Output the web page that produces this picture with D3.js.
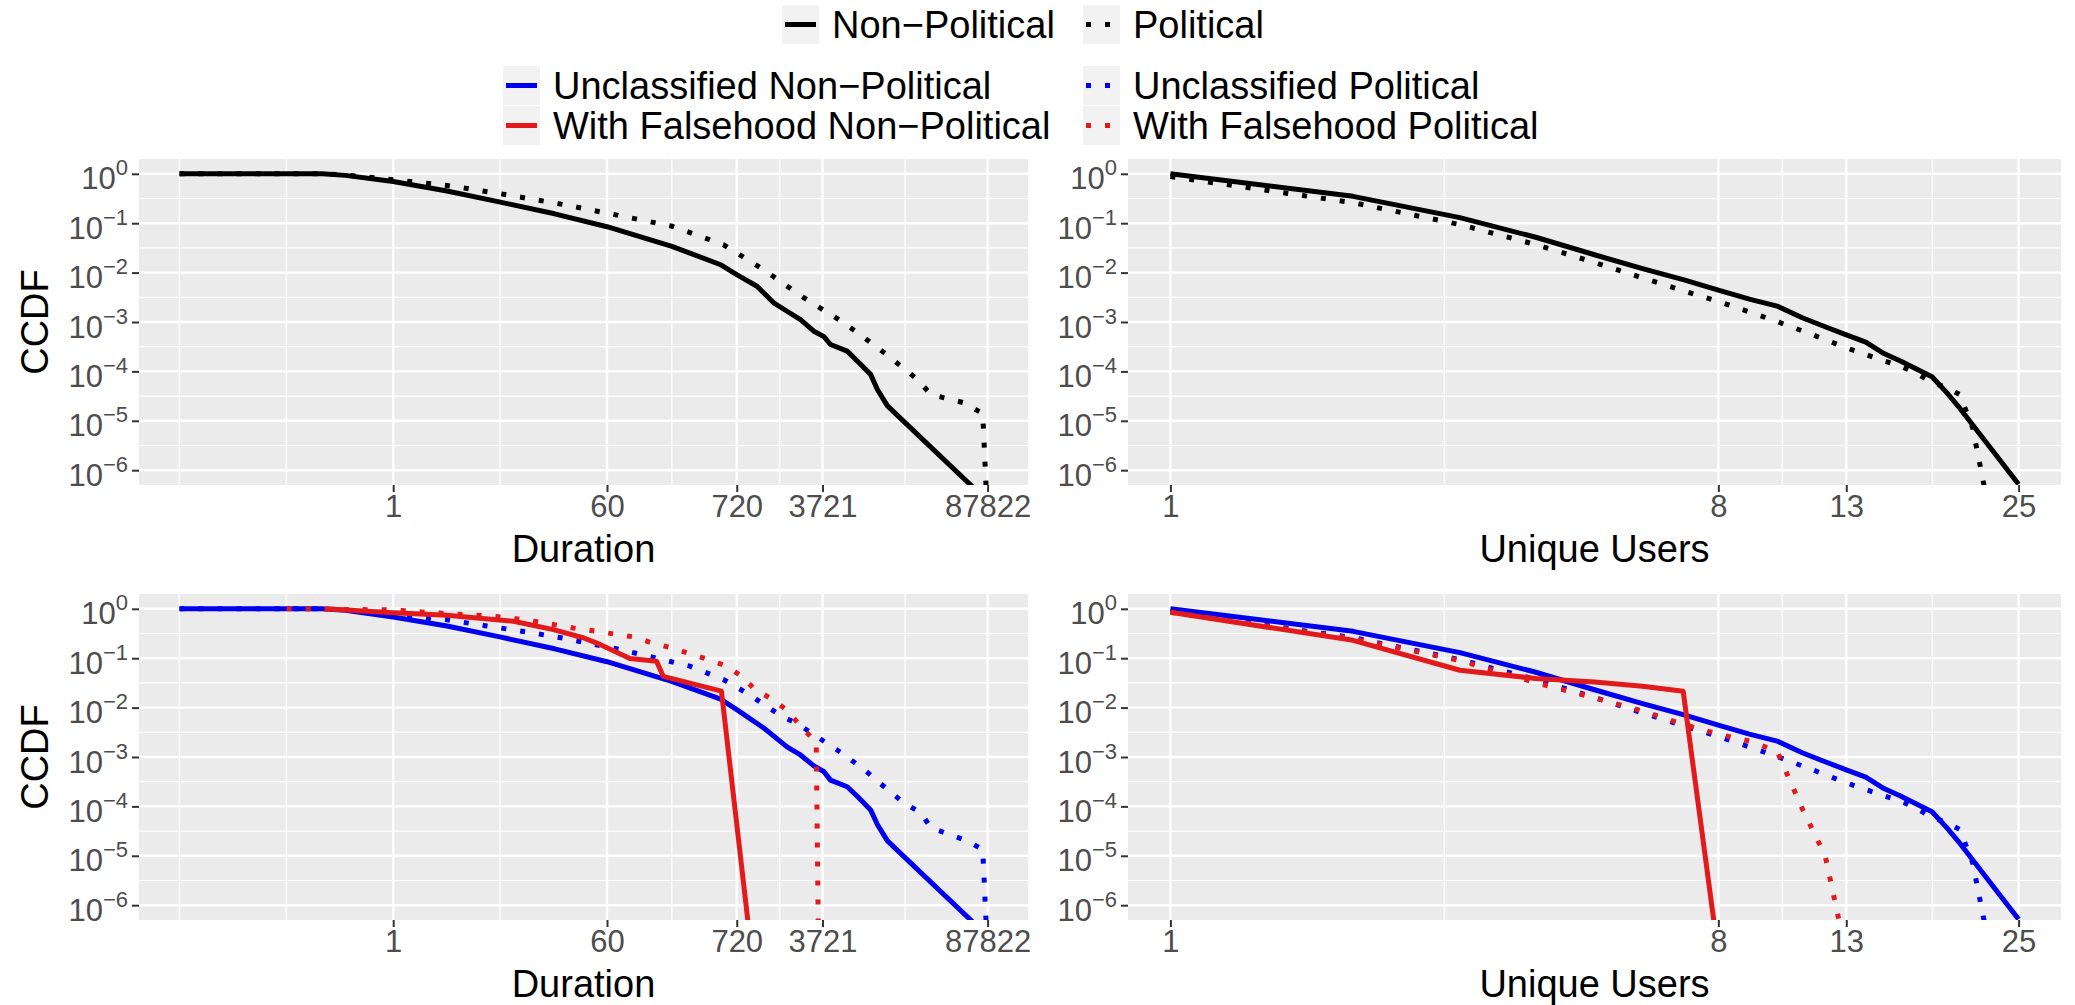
<!DOCTYPE html>
<html>
<head>
<meta charset="utf-8">
<script src="https://cdn.jsdelivr.net/npm/d3@7/dist/d3.min.js"></script>
<style>
body { margin: 0; background: #fff; }
svg text { font-family: "Liberation Sans", Arial, Helvetica, sans-serif; }
</style>
</head>
<body>
<div id="chart"></div>
<script>
// ---------- data ----------
const durTicks = [1, 60, 720, 3721, 87822];
const userTicks = [1, 8, 13, 25];
const yExps = [0, -1, -2, -3, -4, -5, -6];

// Duration, all tweets
const durNonPolX = [0.0167, 0.255, 0.4, 1, 2.8, 7.6, 22, 60, 208, 523, 720, 1060, 1460, 1885, 2440, 3150, 3810, 4335, 5970, 7240, 9350, 10640, 12900, 70000];
const durNonPolY = [1, 1, 0.93, 0.7, 0.45, 0.27, 0.155, 0.085, 0.034, 0.0146, 0.0091, 0.0053, 0.00245, 0.00165, 0.00112, 6.5e-4, 5.1e-4, 3.5e-4, 2.57e-4, 1.62e-4, 8.7e-5, 4.3e-5, 2.0e-5, 4e-7];
const durPolX = [0.0167, 0.255, 0.4, 1, 2.8, 7.6, 27, 60, 208, 556, 1200, 2600, 5620, 12100, 22900, 29600, 56500, 80000, 87822];
const durPolY = [1, 1, 0.95, 0.76, 0.58, 0.4, 0.235, 0.16, 0.087, 0.037, 0.0115, 0.0031, 9.6e-4, 2.4e-4, 6.9e-5, 3.4e-5, 2.3e-5, 1.4e-5, 1e-7];

// Duration, split by falsehood
const durUnclNonPolX = [0.0167, 0.255, 0.4, 1, 2.8, 7.7, 22, 60, 207, 523, 720, 1200, 1885, 2440, 3150, 3810, 4335, 5970, 7240, 9350, 10640, 12900, 70000];
const durUnclNonPolY = [1, 1, 0.93, 0.68, 0.45, 0.27, 0.155, 0.085, 0.034, 0.0150, 0.0091, 0.0039, 0.0016, 0.0011, 6.6e-4, 5.1e-4, 3.4e-4, 2.5e-4, 1.6e-4, 8.5e-5, 4.3e-5, 2.0e-5, 4e-7];
const durUnclPolX = [0.0167, 0.255, 0.4, 1, 2.8, 6, 12.9, 27, 77, 155, 293, 557, 720, 959, 1702, 2340, 5610, 8230, 12900, 17700, 24500, 29600, 56500, 80000, 87822];
const durUnclPolY = [1, 1, 0.95, 0.75, 0.6, 0.45, 0.34, 0.25, 0.15, 0.1, 0.069, 0.037, 0.026, 0.017, 0.0067, 0.0046, 0.00112, 5.6e-4, 2.2e-4, 1.17e-4, 7.4e-5, 3.7e-5, 2.1e-5, 1.35e-5, 1e-7];
const durFalseNonPolX = [0.27, 1, 2.8, 10, 21.5, 38, 52.5, 93, 155, 176, 537, 960];
const durFalseNonPolY = [1, 0.83, 0.74, 0.56, 0.38, 0.26, 0.19, 0.099, 0.087, 0.043, 0.0215, 1e-7];
const durFalsePolX = [0.13, 1, 2.16, 6.8, 10, 14.7, 21.5, 31.5, 46, 68, 100, 141, 207, 293, 418, 594, 794, 990, 1422, 1930, 2420, 3300, 3450];
const durFalsePolY = [1, 0.95, 0.83, 0.71, 0.64, 0.56, 0.48, 0.41, 0.36, 0.31, 0.27, 0.205, 0.162, 0.123, 0.094, 0.069, 0.043, 0.025, 0.0146, 0.0085, 0.0043, 0.002, 1e-7];

// Unique users, all tweets
const usrNonPolX = [1, 2, 3, 4, 5, 6, 7, 8, 9, 10, 11, 12, 13, 14, 15, 16, 17, 18, 19, 20, 25];
const usrNonPolY = [1, 0.35, 0.13, 0.052, 0.023, 0.012, 0.0072, 0.0044, 0.0029, 0.0021, 0.00122, 8.0e-4, 5.5e-4, 3.9e-4, 2.3e-4, 1.6e-4, 1.1e-4, 7.8e-5, 3.8e-5, 1.8e-5, 5.2e-7];
const usrPolX = [1, 2, 3, 4, 5, 6, 7, 8, 9, 10, 11, 12, 13, 14, 15, 16, 17, 18, 19, 20, 21, 22];
const usrPolY = [0.88, 0.26, 0.094, 0.037, 0.016, 0.0078, 0.0043, 0.0026, 0.0016, 0.00102, 6.6e-4, 4.4e-4, 3.0e-4, 2.2e-4, 1.64e-4, 1.27e-4, 9e-5, 6.0e-5, 4.75e-5, 3.4e-5, 7.2e-6, 4e-7];

// Unique users, split by falsehood
const usrUnclNonPolX = [1, 2, 3, 4, 5, 6, 7, 8, 9, 10, 11, 12, 13, 14, 15, 16, 17, 18, 19, 20, 25];
const usrUnclNonPolY = [1, 0.35, 0.13, 0.052, 0.023, 0.012, 0.0072, 0.0044, 0.0029, 0.0021, 0.00122, 8.0e-4, 5.5e-4, 3.9e-4, 2.3e-4, 1.6e-4, 1.1e-4, 7.8e-5, 3.8e-5, 1.8e-5, 5.2e-7];
const usrUnclPolX = [1, 2, 3, 4, 5, 6, 7, 8, 9, 10, 11, 12, 13, 14, 15, 16, 17, 18, 19, 20, 21, 22];
const usrUnclPolY = [0.88, 0.26, 0.094, 0.037, 0.016, 0.0078, 0.0043, 0.0026, 0.0016, 0.00102, 6.6e-4, 4.4e-4, 3.0e-4, 2.2e-4, 1.64e-4, 1.27e-4, 9e-5, 6.0e-5, 4.75e-5, 3.4e-5, 7.2e-6, 4e-7];
const usrFalseNonPolX = [1, 2, 3, 4, 5, 6, 7, 8];
const usrFalseNonPolY = [0.85, 0.23, 0.057, 0.039, 0.033, 0.027, 0.0215, 1e-7];
const usrFalsePolX = [1, 2, 3, 4, 5, 6, 7, 8, 9, 10, 11, 12, 13];
const usrFalsePolY = [0.85, 0.25, 0.09, 0.032, 0.0158, 0.0085, 0.0046, 0.0029, 0.0021, 0.0013, 9e-5, 1e-5, 1e-7];

const legendTop = ["Non\u2212Political", "Political"];
const legendBottom = ["Unclassified Non\u2212Political", "With Falsehood Non\u2212Political",
                      "Unclassified Political", "With Falsehood Political"];

// ---------- setup ----------
const BLACK = "#000000", BLUE = "#0000EE", RED = "#E31A1C";
const LW = 5, DOTS = "5,14";

const svg = d3.select("#chart").append("svg")
    .attr("width", 2075)
    .attr("height", 1005);

function series(xs, ys, color, dotted) {
    return { pts: xs.map(function(x, i){ return [x, ys[i]]; }), color: color, dotted: dotted };
}

const panels = [
    { left: 139, right: 1028, top: 159, bottom: 485, ticks: durTicks, title: "Duration", ccdf: true,
      series: [series(durPolX, durPolY, BLACK, true), series(durNonPolX, durNonPolY, BLACK, false)] },
    { left: 1128, right: 2061, top: 159, bottom: 485, ticks: userTicks, title: "Unique Users", ccdf: false,
      series: [series(usrPolX, usrPolY, BLACK, true), series(usrNonPolX, usrNonPolY, BLACK, false)] },
    { left: 139, right: 1028, top: 594, bottom: 920, ticks: durTicks, title: "Duration", ccdf: true,
      series: [series(durUnclNonPolX, durUnclNonPolY, BLUE, false), series(durUnclPolX, durUnclPolY, BLUE, true),
               series(durFalseNonPolX, durFalseNonPolY, RED, false), series(durFalsePolX, durFalsePolY, RED, true)] },
    { left: 1128, right: 2061, top: 594, bottom: 920, ticks: userTicks, title: "Unique Users", ccdf: false,
      series: [series(usrUnclNonPolX, usrUnclNonPolY, BLUE, false), series(usrUnclPolX, usrUnclPolY, BLUE, true),
               series(usrFalseNonPolX, usrFalseNonPolY, RED, false), series(usrFalsePolX, usrFalsePolY, RED, true)] }
];

panels.forEach(function(p, idx) {
    // ggplot-style 5% expansion in log space (duration data start at 1 second = 1/60 min)
    const lo = Math.log10(p.ticks === durTicks ? 1 / 60 : p.ticks[0]);
    const hi = Math.log10(p.ticks[p.ticks.length - 1]);
    const pad = (hi - lo) * 0.05;

    const x = d3.scaleLog()
        .domain([Math.pow(10, lo - pad), Math.pow(10, hi + pad)])
        .range([p.left, p.right]);
    const y = d3.scaleLog()
        .domain([Math.pow(10, -6.3), Math.pow(10, 0.3)])
        .range([p.bottom, p.top]);

    const g = svg.append("g");

    g.append("rect")
        .attr("x", p.left).attr("y", p.top)
        .attr("width", p.right - p.left).attr("height", p.bottom - p.top)
        .attr("fill", "#EBEBEB");

    // minor grid
    const xMinor = [];
    const logs = p.ticks.map(Math.log10);
    const first = logs[0] - (logs[1] - logs[0]);
    if (first >= lo - pad) xMinor.push(Math.pow(10, first), Math.pow(10, (first + logs[0]) / 2));
    for (let i = 0; i < logs.length - 1; i++) xMinor.push(Math.pow(10, (logs[i] + logs[i + 1]) / 2));
    const yMinor = d3.range(-0.5, -6, -1).map(function(e){ return Math.pow(10, e); });

    g.selectAll(".vmin").data(xMinor).join("line")
        .attr("x1", function(d){ return x(d); }).attr("x2", function(d){ return x(d); })
        .attr("y1", p.top).attr("y2", p.bottom)
        .attr("stroke", "#fff").attr("stroke-width", 1.2);
    g.selectAll(".hmin").data(yMinor).join("line")
        .attr("y1", function(d){ return y(d); }).attr("y2", function(d){ return y(d); })
        .attr("x1", p.left).attr("x2", p.right)
        .attr("stroke", "#fff").attr("stroke-width", 1.2);

    // major grid
    g.selectAll(".vmaj").data(p.ticks).join("line")
        .attr("x1", function(d){ return x(d); }).attr("x2", function(d){ return x(d); })
        .attr("y1", p.top).attr("y2", p.bottom)
        .attr("stroke", "#fff").attr("stroke-width", 2.4);
    g.selectAll(".hmaj").data(yExps).join("line")
        .attr("y1", function(d){ return y(Math.pow(10, d)); }).attr("y2", function(d){ return y(Math.pow(10, d)); })
        .attr("x1", p.left).attr("x2", p.right)
        .attr("stroke", "#fff").attr("stroke-width", 2.4);

    // lines
    const clipId = "clip" + idx;
    svg.append("clipPath").attr("id", clipId)
        .append("rect")
        .attr("x", p.left).attr("y", p.top)
        .attr("width", p.right - p.left).attr("height", p.bottom - p.top);

    const line = d3.line()
        .x(function(d){ return x(d[0]); })
        .y(function(d){ return y(d[1]); });

    g.append("g").attr("clip-path", "url(#" + clipId + ")")
        .selectAll("path").data(p.series).join("path")
        .attr("d", function(s){ return line(s.pts); })
        .attr("fill", "none")
        .attr("stroke", function(s){ return s.color; })
        .attr("stroke-width", LW)
        .attr("stroke-linejoin", "round")
        .attr("stroke-dasharray", function(s){ return s.dotted ? DOTS : null; });

    // x axis
    const xa = g.append("g")
        .attr("transform", "translate(0," + p.bottom + ")")
        .call(d3.axisBottom(x).tickValues(p.ticks).tickFormat(d3.format("d")).tickSize(7).tickPadding(3));
    xa.select(".domain").remove();
    xa.selectAll(".tick line").attr("stroke", "#333").attr("stroke-width", 2);
    xa.selectAll(".tick text").attr("fill", "#4D4D4D").style("font-size", "31px");

    // y axis
    const ya = g.append("g")
        .attr("transform", "translate(" + p.left + ",0)")
        .call(d3.axisLeft(y).tickValues(yExps.map(function(e){ return Math.pow(10, e); })).tickSize(7));
    ya.select(".domain").remove();
    ya.selectAll(".tick line").attr("stroke", "#333").attr("stroke-width", 2);
    ya.selectAll(".tick text").each(function(d) {
        const t = d3.select(this);
        const e = Math.round(Math.log10(d));
        t.text(null)
            .attr("x", -11).attr("dy", null).attr("y", 15)
            .attr("fill", "#4D4D4D").style("font-size", "31px");
        t.append("tspan").text("10");
        t.append("tspan").attr("dy", -14).style("font-size", "22px")
            .text(e === 0 ? "0" : "\u2212" + Math.abs(e));
    });

    // titles
    g.append("text")
        .attr("x", (p.left + p.right) / 2).attr("y", p.bottom + 77)
        .attr("text-anchor", "middle")
        .style("font-size", "38px")
        .text(p.title);

    if (p.ccdf) {
        g.append("text")
            .attr("transform", "translate(48," + (p.top + p.bottom) / 2 + ") rotate(-90)")
            .attr("text-anchor", "middle")
            .style("font-size", "38px")
            .text("CCDF");
    }
});

// ---------- legends ----------
function legendKey(x, yTop, color, dotted, label) {
    const k = svg.append("g");
    k.append("rect").attr("x", x).attr("y", yTop).attr("width", 37).attr("height", 39).attr("fill", "#F2F2F2");
    k.append("line")
        .attr("x1", x + 3).attr("x2", x + 34)
        .attr("y1", yTop + 19.5).attr("y2", yTop + 19.5)
        .attr("stroke", color).attr("stroke-width", LW)
        .attr("stroke-dasharray", dotted ? DOTS : null);
    k.append("text")
        .attr("x", x + 50).attr("y", yTop + 33)
        .style("font-size", "38px")
        .text(label);
}

legendKey(782, 5, BLACK, false, legendTop[0]);
legendKey(1083, 5, BLACK, true, legendTop[1]);

legendKey(503, 66, BLUE, false, legendBottom[0]);
legendKey(503, 106, RED, false, legendBottom[1]);
legendKey(1083, 66, BLUE, true, legendBottom[2]);
legendKey(1083, 106, RED, true, legendBottom[3]);
</script>
</body>
</html>
